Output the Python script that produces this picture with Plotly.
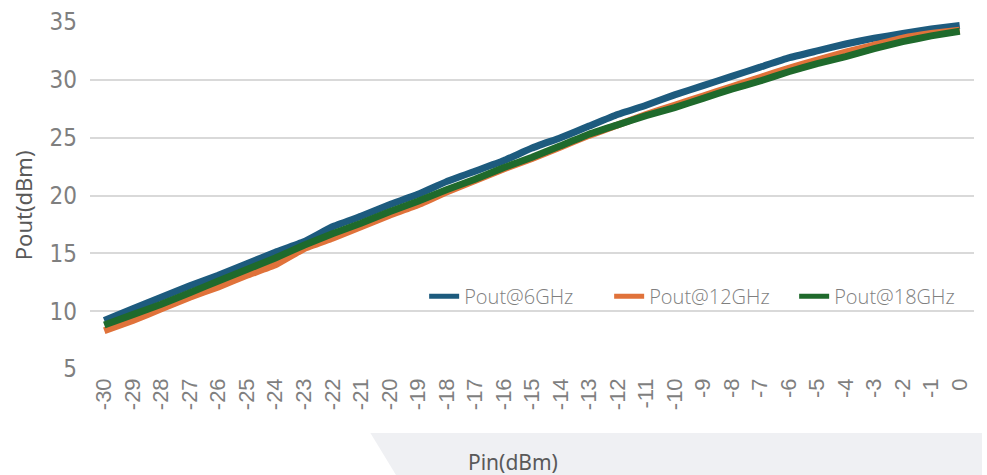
import plotly.graph_objects as go

pin = [-30, -29, -28, -27, -26, -25, -24, -23, -22, -21, -20, -19, -18, -17, -16,
       -15, -14, -13, -12, -11, -10, -9, -8, -7, -6, -5, -4, -3, -2, -1, 0]

pout_6ghz = [9.2, 10.2, 11.2, 12.2, 13.1, 14.1, 15.1, 16.0, 17.3, 18.2, 19.2, 20.1,
             21.2, 22.1, 23.0, 24.1, 25.0, 26.0, 27.0, 27.8, 28.7, 29.5, 30.3, 31.1,
             31.9, 32.5, 33.1, 33.6, 34.0, 34.4, 34.7]
pout_12ghz = [8.3, 9.2, 10.2, 11.2, 12.1, 13.1, 14.0, 15.4, 16.3, 17.3, 18.3, 19.2,
              20.3, 21.3, 22.3, 23.2, 24.2, 25.2, 26.1, 27.0, 27.8, 28.6, 29.4, 30.2,
              31.0, 31.7, 32.4, 33.0, 33.6, 34.0, 34.3]
pout_18ghz = [8.8, 9.7, 10.6, 11.6, 12.6, 13.6, 14.6, 15.7, 16.7, 17.6, 18.6, 19.5,
              20.5, 21.4, 22.4, 23.3, 24.3, 25.3, 26.1, 26.9, 27.6, 28.4, 29.2, 29.9,
              30.7, 31.4, 32.0, 32.7, 33.3, 33.8, 34.2]

series_names = ["Pout@6GHz", "Pout@12GHz", "Pout@18GHz"]
series_colors = ["#1d5b7e", "#e0723a", "#1f6a2c"]
y_ticks = [5, 10, 15, 20, 25, 30, 35]

fig = go.Figure()
for name, vals, col in zip(series_names, [pout_6ghz, pout_12ghz, pout_18ghz], series_colors):
    fig.add_trace(go.Scatter(x=pin, y=vals, name=name, mode="lines", showlegend=False,
                             line=dict(color=col, width=7, shape="spline", smoothing=0.3)))
# legend entries with thinner line samples
for name, col in zip(series_names, series_colors):
    fig.add_trace(go.Scatter(x=[None], y=[None], name=name, mode="lines",
                             line=dict(color=col, width=5), hoverinfo="skip"))

fig.update_layout(
    width=987, height=475,
    margin=dict(l=90, r=8, t=22, b=106),
    paper_bgcolor="white", plot_bgcolor="white",
    showlegend=True,
    legend=dict(orientation="h", x=0.378, y=0.21, xanchor="left", yanchor="middle",
                font=dict(family="Open Sans", size=20, color="#7f7f7f", weight=300),
                entrywidth=140, bgcolor="rgba(0,0,0,0)", tracegroupgap=0),
    xaxis=dict(range=[-30.5, 0.5], tickmode="array", tickvals=pin,
               ticktext=[str(v) for v in pin], tickangle=-90,
               showgrid=False, zeroline=False, showline=False,
               tickfont=dict(family="Liberation Sans", size=22, color="#7f7f7f"),
               ticklabelstandoff=4),
    yaxis=dict(range=[5, 35], tickmode="array", tickvals=y_ticks,
               showgrid=True, gridcolor="#d9d9d9", gridwidth=2, zeroline=False,
               showline=False,
               tickfont=dict(family="DejaVu Sans Condensed, Liberation Sans", size=24,
                             color="#7f7f7f"),
               ticklabelstandoff=12),
    shapes=[dict(type="path", xref="paper", yref="paper", layer="below",
                 path="M 0.3172 -0.1844 L 1.009 -0.1844 L 1.009 -0.33 L 0.352 -0.33 Z",
                 fillcolor="#eff0f3", line=dict(width=0))],
    annotations=[
        dict(text="Pin(dBm)", xref="paper", yref="paper", x=0.478, y=-0.268,
             showarrow=False, xanchor="center", yanchor="middle",
             font=dict(family="Noto Sans", size=21, color="#595959")),
        dict(text="Pout(dBm)", xref="paper", yref="paper", x=-0.0765, y=0.473,
             showarrow=False, textangle=-90, xanchor="center", yanchor="middle",
             font=dict(family="Noto Sans", size=22, color="#595959")),
    ],
)

fig.write_html("out.html", config={"displayModeBar": False},
               post_script="document.body.style.margin='0';")
